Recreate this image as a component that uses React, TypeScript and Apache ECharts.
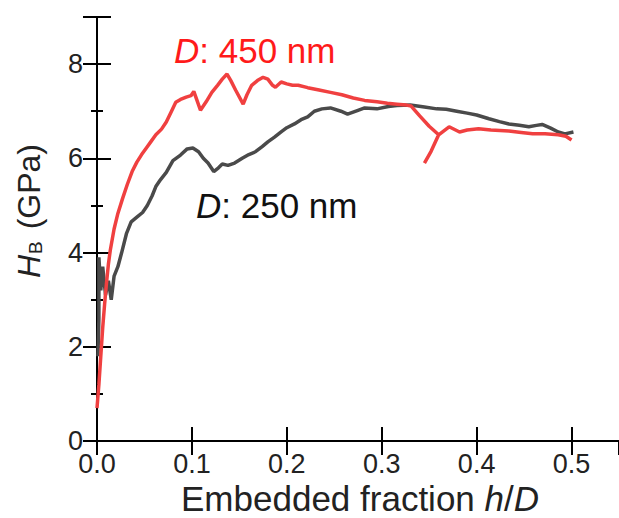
import React, { useEffect, useRef } from "react";
import * as echarts from "echarts";

const xTicks = [0, 0.1, 0.2, 0.3, 0.4, 0.5];
const yTicks = [0, 2, 4, 6, 8];

const label450 = "450 nm";
const label250 = "250 nm";

// D = 450 nm (red)
const d450: number[][] = [
  [0.0, 0.7], [0.002, 1.2], [0.004, 1.8], [0.006, 2.4], [0.008, 2.9], [0.01, 3.35],
  [0.012, 3.75], [0.014, 4.05], [0.018, 4.5], [0.022, 4.83], [0.027, 5.15], [0.032, 5.45],
  [0.037, 5.72], [0.042, 5.92], [0.047, 6.08], [0.052, 6.22], [0.057, 6.36], [0.062, 6.5],
  [0.068, 6.62], [0.073, 6.77], [0.078, 6.98], [0.083, 7.19], [0.088, 7.25], [0.094, 7.3],
  [0.099, 7.33], [0.102, 7.42], [0.105, 7.25], [0.109, 7.02], [0.115, 7.2], [0.121, 7.4],
  [0.127, 7.55], [0.132, 7.68], [0.137, 7.79], [0.141, 7.65], [0.146, 7.45], [0.154, 7.15],
  [0.158, 7.35], [0.163, 7.55], [0.169, 7.65], [0.175, 7.72], [0.18, 7.68], [0.185, 7.55],
  [0.188, 7.51], [0.194, 7.62], [0.2, 7.58], [0.206, 7.55], [0.212, 7.55], [0.222, 7.5],
  [0.234, 7.45], [0.246, 7.4], [0.258, 7.35], [0.27, 7.28], [0.282, 7.23], [0.295, 7.2],
  [0.306, 7.17], [0.316, 7.15], [0.326, 7.13], [0.331, 7.11], [0.34, 6.9], [0.35, 6.68],
  [0.36, 6.5], [0.352, 6.15], [0.345, 5.9], [0.352, 6.15], [0.36, 6.5], [0.371, 6.67],
  [0.382, 6.56], [0.39, 6.6], [0.402, 6.63], [0.415, 6.6], [0.434, 6.58], [0.447, 6.55],
  [0.459, 6.52], [0.472, 6.52], [0.486, 6.5], [0.494, 6.47], [0.5, 6.39],
];

// D = 250 nm (dark grey)
const d250: number[][] = [
  [0.001, 1.8], [0.002, 2.6], [0.002, 3.9], [0.004, 3.2], [0.006, 3.7], [0.009, 3.1],
  [0.012, 3.4], [0.015, 3.0], [0.018, 3.5], [0.022, 3.7], [0.026, 4.0], [0.031, 4.4],
  [0.036, 4.65], [0.042, 4.75], [0.048, 4.85], [0.053, 5.0], [0.058, 5.2], [0.062, 5.4],
  [0.067, 5.55], [0.073, 5.7], [0.08, 5.95], [0.088, 6.07], [0.095, 6.2], [0.101, 6.22],
  [0.107, 6.14], [0.112, 6.0], [0.117, 5.9], [0.123, 5.72], [0.128, 5.8], [0.132, 5.88],
  [0.138, 5.85], [0.145, 5.9], [0.153, 6.0], [0.16, 6.08], [0.167, 6.14], [0.174, 6.25],
  [0.18, 6.35], [0.187, 6.45], [0.194, 6.56], [0.2, 6.65], [0.208, 6.73], [0.215, 6.82],
  [0.222, 6.88], [0.229, 7.0], [0.237, 7.05], [0.246, 7.07], [0.257, 7.0], [0.264, 6.94],
  [0.275, 7.02], [0.282, 7.07], [0.295, 7.05], [0.307, 7.1], [0.316, 7.12], [0.33, 7.13],
  [0.345, 7.09], [0.358, 7.05], [0.368, 7.04], [0.379, 7.0], [0.39, 6.96], [0.4, 6.92],
  [0.413, 6.84], [0.424, 6.78], [0.434, 6.73], [0.445, 6.7], [0.455, 6.67], [0.463, 6.7],
  [0.469, 6.72], [0.478, 6.64], [0.486, 6.56], [0.493, 6.52], [0.502, 6.56],
];

const FONT = "'Liberation Sans', Arial, sans-serif";

export default function App() {
  const ref = useRef<HTMLDivElement>(null);
  useEffect(() => {
    document.body.style.margin = "0";
    const chart = echarts.init(ref.current!, undefined, { renderer: "svg" });
    const axisLine = { show: true, lineStyle: { color: "#000", width: 2 } };
    const major = { show: true, inside: true, length: 14, lineStyle: { color: "#000", width: 2 } };
    const minor = { show: true, splitNumber: 2, length: 6, lineStyle: { color: "#000", width: 2 } };
    chart.setOption({
      animation: false,
      textStyle: { fontFamily: FONT },
      grid: { left: 97, top: 17, width: 527, height: 424 },
      xAxis: [
        {
          type: "value", min: 0, max: 0.55, interval: 0.1, position: "bottom",
          axisLine, axisTick: major, splitLine: { show: false },
          axisLabel: {
            show: true, margin: 9, fontSize: 27, color: "#222", fontFamily: FONT,
            showMaxLabel: false,
            formatter: (v: number) => (xTicks.some((t) => Math.abs(t - v) < 1e-9) ? v.toFixed(1) : ""),
          },
        },
        {
          type: "value", min: 0, max: 0.55, interval: 0.1, position: "top",
          axisLine, axisTick: major, splitLine: { show: false }, axisLabel: { show: false },
        },
      ],
      yAxis: [
        {
          type: "value", min: 0, max: 9, interval: 2, position: "left",
          axisLine, axisTick: major, splitLine: { show: false }, minorTick: minor,
          axisLabel: {
            show: true, margin: 14, fontSize: 27, color: "#222", fontFamily: FONT,
            showMaxLabel: false,
            formatter: (v: number) => (yTicks.includes(v) ? String(v) : ""),
          },
        },
        {
          type: "value", min: 0, max: 9, interval: 2, position: "right",
          axisLine, axisTick: major, splitLine: { show: false }, axisLabel: { show: false },
          minorTick: minor,
        },
      ],
      series: [
        {
          name: label250, type: "line", data: d250, showSymbol: false,
          lineStyle: { color: "#4a4a4a", width: 3.5 }, xAxisIndex: 0, yAxisIndex: 0,
        },
        {
          name: label450, type: "line", data: d450, showSymbol: false,
          lineStyle: { color: "#f04040", width: 3.5 }, xAxisIndex: 0, yAxisIndex: 0,
        },
      ],
      graphic: [
        {
          type: "text", x: 29, y: 211, rotation: Math.PI / 2,
          style: {
            text: "{i|H}{s|B} (GPa)", align: "center", verticalAlign: "middle",
            fill: "#222", font: `32px ${FONT}`,
            rich: {
              i: { fontStyle: "italic", fontSize: 32, fontFamily: FONT, fill: "#222" },
              s: { fontSize: 19, fontFamily: FONT, fill: "#222", verticalAlign: "bottom", padding: [12, 3, 0, 1] },
            },
          },
        },
        {
          type: "text", x: 360, y: 498,
          style: {
            text: "Embedded fraction {i|h}/{i|D}", align: "center", verticalAlign: "middle",
            fill: "#222", font: `35px ${FONT}`,
            rich: { i: { fontStyle: "italic", fontSize: 35, fontFamily: FONT, fill: "#222" } },
          },
        },
        {
          type: "text", x: 174, y: 50,
          style: {
            text: "{i|D}: " + label450, align: "left", verticalAlign: "middle",
            fill: "#ff1a1a", font: `35px ${FONT}`,
            rich: { i: { fontStyle: "italic", fontSize: 35, fontFamily: FONT, fill: "#ff1a1a" } },
          },
        },
        {
          type: "text", x: 196, y: 205,
          style: {
            text: "{i|D}: " + label250, align: "left", verticalAlign: "middle",
            fill: "#111", font: `35px ${FONT}`,
            rich: { i: { fontStyle: "italic", fontSize: 35, fontFamily: FONT, fill: "#111" } },
          },
        },
      ],
    });
    return () => chart.dispose();
  }, []);
  return <div ref={ref} style={{ width: 619, height: 518 }} />;
}
